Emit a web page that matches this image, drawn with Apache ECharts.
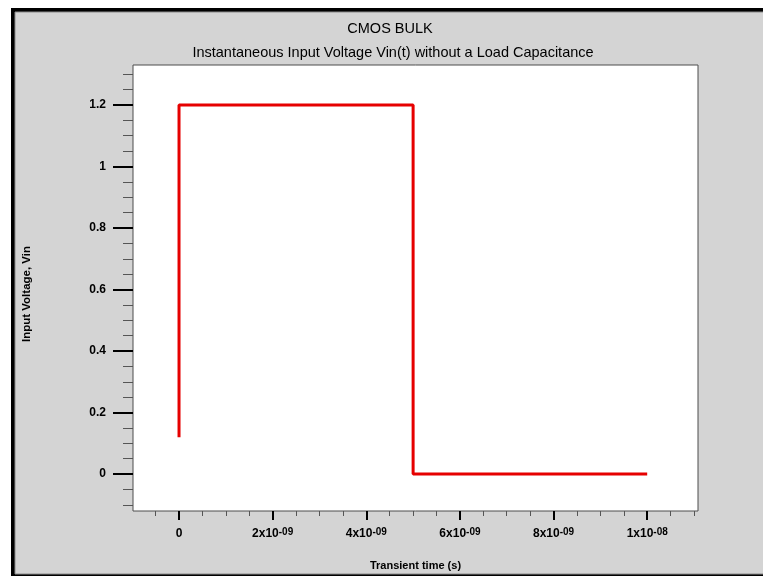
<!DOCTYPE html>
<html><head><meta charset="utf-8">
<script src="https://cdn.jsdelivr.net/npm/echarts@6/dist/echarts.min.js"></script>
<style>html,body{margin:0;padding:0;background:#fff}#c{width:763px;height:576px}</style>
</head><body><div id="c"></div>
<script>
// ---- data ----
const timeValues = [0, 0, 5e-9, 5e-9, 1e-8];
const vinValues = [0.12, 1.2, 1.2, 0, 0];
const xMajorTicks = [0, 2e-9, 4e-9, 6e-9, 8e-9, 1e-8];
const xMinorTicks = [-5e-10, 5e-10, 1e-9, 1.5e-9, 2.5e-9, 3e-9, 3.5e-9, 4.5e-9, 5e-9, 5.5e-9,
  6.5e-9, 7e-9, 7.5e-9, 8.5e-9, 9e-9, 9.5e-9, 1.05e-8, 1.1e-8];
const yMajorTicks = [0, 0.2, 0.4, 0.6, 0.8, 1, 1.2];
const yMinorTicks = [-0.1, -0.05, 0.05, 0.1, 0.15, 0.25, 0.3, 0.35, 0.45, 0.5, 0.55, 0.65, 0.7,
  0.75, 0.85, 0.9, 0.95, 1.05, 1.1, 1.15, 1.25, 1.3];
const X_MIN = -0.983e-9, X_MAX = 1.1085e-8;
const Y_MIN = -0.12, Y_MAX = 1.33;
const titleText = 'CMOS BULK';
const subtitleText = 'Instantaneous Input Voltage Vin(t) without a Load Capacitance';
const xTitle = 'Transient time (s)';
const yTitle = 'Input Voltage, Vin';

const FONT = 'Liberation Sans';
function sciFmt(v) {
  if (Math.abs(v) < 1e-20) return '0';
  const e = Math.floor(Math.log10(Math.abs(v)) + 1e-9);
  const m = Math.round(v / Math.pow(10, e) * 100) / 100;
  const es = (e < 0 ? '-' : '+') + String(Math.abs(e)).padStart(2, '0');
  return m + 'x10{sup|' + es + '}';
}

const chart = echarts.init(document.getElementById('c'), null, {renderer: 'canvas'});
const common = {type: 'value', gridIndex: 0, splitLine: {show: false}};
chart.setOption({
  backgroundColor: '#fff',
  animation: false,
  graphic: {elements: [
    {type: 'rect', silent: true, z: -10, shape: {x: 11, y: 8, width: 752, height: 568}, style: {fill: '#000'}},
    {type: 'rect', silent: true, z: -9, shape: {x: 15, y: 12, width: 760, height: 562}, style: {fill: '#d4d4d4', stroke: '#8a8a8a', lineWidth: 1}}
  ]},
  title: [
    {text: titleText, left: 390, top: 21, textAlign: 'center', padding: 0,
     textStyle: {fontSize: 14.5, fontWeight: 'normal', color: '#000', fontFamily: FONT}},
    {text: subtitleText, left: 393, top: 45, textAlign: 'center', padding: 0,
     textStyle: {fontSize: 14.5, fontWeight: 'normal', color: '#000', fontFamily: FONT}}
  ],
  grid: {left: 133, top: 65, width: 565, height: 446, show: true, backgroundColor: '#fff',
         borderColor: '#4d4d4d', borderWidth: 1, containLabel: false},
  xAxis: [
    Object.assign({}, common, {
      position: 'bottom', min: X_MIN, max: X_MAX,
      axisLine: {show: false, onZero: false},
      axisTick: {show: true, customValues: xMajorTicks, length: 9, lineStyle: {color: '#000', width: 2}},
      axisLabel: {show: true, customValues: xMajorTicks, formatter: sciFmt, margin: 16,
        color: '#000', fontSize: 12, fontWeight: 'bold', fontFamily: FONT, lineHeight: 14,
        rich: {sup: {fontSize: 10, fontWeight: 'bold', fontFamily: FONT, color: '#000', lineHeight: 9, verticalAlign: 'top'}}},
      name: xTitle, nameLocation: 'middle', nameGap: 49,
      nameTextStyle: {color: '#000', fontSize: 11, fontWeight: 'bold', fontFamily: FONT}
    }),
    Object.assign({}, common, {
      position: 'bottom', min: X_MIN, max: X_MAX,
      axisLine: {show: false, onZero: false},
      axisTick: {show: true, customValues: xMinorTicks, length: 5, lineStyle: {color: '#555', width: 1}},
      axisLabel: {show: false}
    })
  ],
  yAxis: [
    Object.assign({}, common, {
      position: 'left', min: Y_MIN, max: Y_MAX,
      axisLine: {show: false, onZero: false},
      axisTick: {show: true, customValues: yMajorTicks, length: 20, lineStyle: {color: '#000', width: 2}},
      axisLabel: {show: true, customValues: yMajorTicks, margin: 27, color: '#000', fontSize: 12,
        fontWeight: 'bold', fontFamily: FONT},
      name: yTitle, nameLocation: 'middle', nameGap: 100,
      nameTextStyle: {color: '#000', fontSize: 11.5, fontWeight: 'bold', fontFamily: FONT, padding: [0, 12, 0, 0]}
    }),
    Object.assign({}, common, {
      position: 'left', min: Y_MIN, max: Y_MAX,
      axisLine: {show: false, onZero: false},
      axisTick: {show: true, customValues: yMinorTicks, length: 10, lineStyle: {color: '#555', width: 1}},
      axisLabel: {show: false}
    })
  ],
  series: [{
    type: 'line', xAxisIndex: 0, yAxisIndex: 0,
    data: timeValues.map((t, i) => [t, vinValues[i]]),
    showSymbol: false, symbol: 'none',
    lineStyle: {color: '#e60000', width: 3}, itemStyle: {color: '#e60000'}
  }]
});
</script></body></html>
